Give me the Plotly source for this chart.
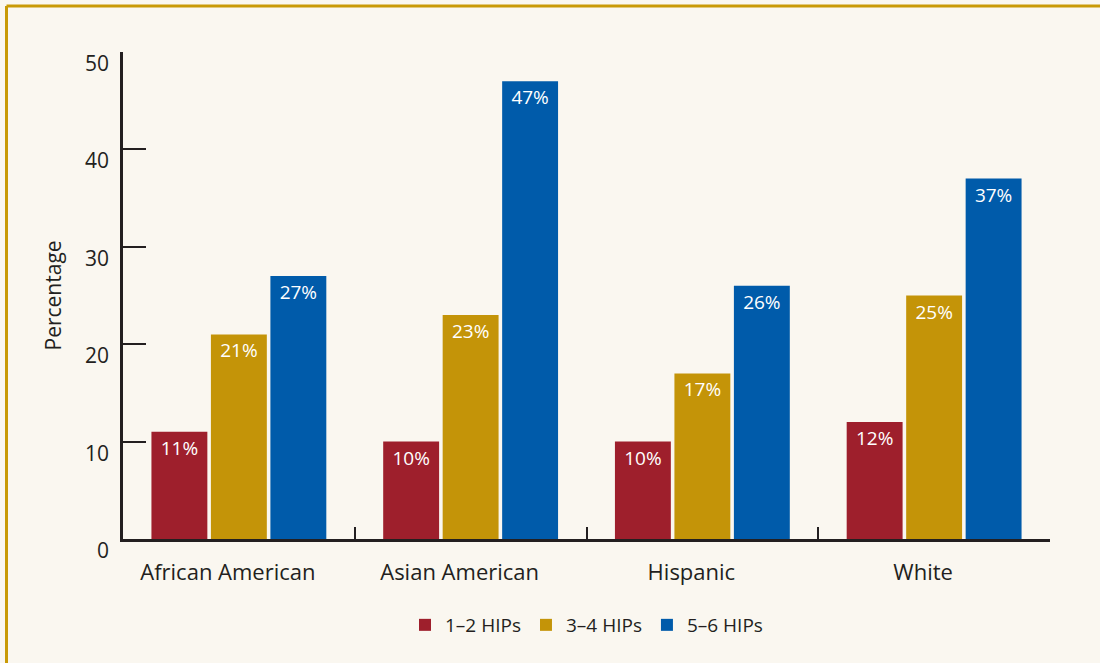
import plotly.graph_objects as go

categories = ["African American", "Asian American", "Hispanic", "White"]
series_names = ["1–2 HIPs", "3–4 HIPs", "5–6 HIPs"]
hips_1_2 = [11, 10, 10, 12]
hips_3_4 = [21, 23, 17, 25]
hips_5_6 = [27, 47, 26, 37]
y_ticks = [0, 10, 20, 30, 40, 50]

colors = ["#9E1F2C", "#C49408", "#005BAA"]
BG = "#FAF7F0"
INK = "#231F20"
GOLD = "#C99A06"
FONT = "Open Sans"

W, H = 1100, 663
ML, MR, MT, MB = 123, 50, 52, 124
PW, PH = W - ML - MR, H - MT - MB

fig = go.Figure()
for name, vals, col in zip(series_names, [hips_1_2, hips_3_4, hips_5_6], colors):
    fig.add_trace(go.Bar(
        x=categories, y=vals, name=name, marker=dict(color=col, line=dict(width=0)),
        text=[f"{v}%" for v in vals], textposition="inside", insidetextanchor="end",
        textfont=dict(color="white", size=19, family=FONT), textangle=0,
        hoverinfo="skip",
    ))

annotations = []
for t in y_ticks:
    annotations.append(dict(
        x=0, xref="paper", y=t, yref="y", text=str(t), showarrow=False,
        xanchor="right", yanchor="middle", xshift=-12, yshift=-11,
        font=dict(size=21, color=INK, family=FONT),
    ))
annotations.append(dict(
    x=0, xref="paper", y=0.5, yref="paper", text="Percentage", showarrow=False,
    textangle=-90, xanchor="center", yanchor="middle", xshift=-71,
    font=dict(size=21, color=INK, family=FONT),
))

# border lines (gold) at top and left of the page
lx = (6.5 - ML) / PW
ty = 1 + (MT - 6) / PH
by = -(MB) / PH
shapes = [
    dict(type="line", xref="paper", yref="paper", x0=lx, x1=lx, y0=by - 0.01, y1=ty,
         line=dict(color=GOLD, width=3)),
    dict(type="line", xref="paper", yref="paper", x0=lx, x1=1 + MR / PW + 0.01, y0=ty, y1=ty,
         line=dict(color=GOLD, width=3)),
]

fig.update_layout(
    width=W, height=H,
    margin=dict(l=ML, r=MR, t=MT, b=MB, autoexpand=False),
    paper_bgcolor=BG, plot_bgcolor=BG,
    barmode="group", bargap=0.23, bargroupgap=0.06,
    font=dict(family=FONT, color=INK),
    showlegend=True,
    legend=dict(orientation="h", x=0.5, xanchor="center", y=(539 - 625) / PH,
                yanchor="middle", font=dict(size=19, color=INK, family=FONT),
                bgcolor="rgba(0,0,0,0)", traceorder="normal"),
    annotations=annotations,
    shapes=shapes,
)

fig.update_xaxes(
    showline=True, linecolor=INK, linewidth=2.5, mirror=False,
    ticks="inside", tickson="boundaries", ticklen=12, tickwidth=2, tickcolor=INK,
    tickfont=dict(size=22, color=INK, family=FONT),
    ticklabelstandoff=12, ticklabelshift=-11,
    showgrid=False, zeroline=False, fixedrange=True,
)
fig.update_yaxes(
    range=[0, 50], tickvals=y_ticks, showticklabels=False,
    showline=True, linecolor=INK, linewidth=2.5,
    ticks="inside", ticklen=23, tickwidth=2, tickcolor=INK,
    showgrid=False, zeroline=False, fixedrange=True,
)

fig.write_html("out.html", config={"displayModeBar": False},
               post_script="document.body.style.margin='0';document.body.style.overflow='hidden';")
